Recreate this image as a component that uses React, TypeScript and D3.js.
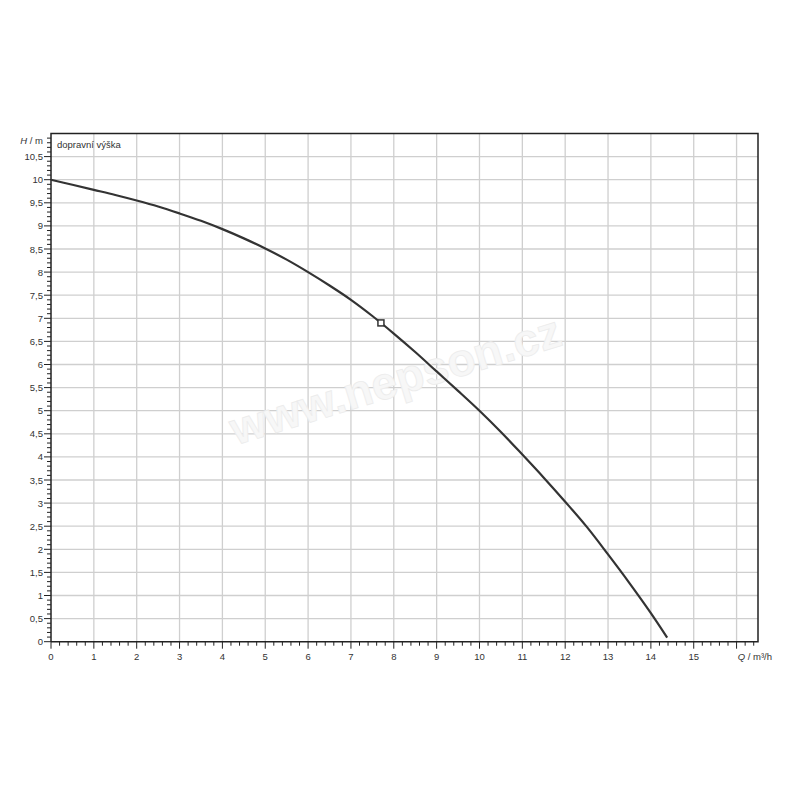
import { useEffect, useRef } from "react";
import * as d3 from "d3";

// pump curve
const flow = [0, 0.5, 1, 1.5, 2, 2.5, 3, 3.5, 4, 4.5, 5, 5.5, 6, 6.5, 7, 7.5, 8, 8.5, 9, 9.5, 10, 10.5, 11, 11.5, 12, 12.5, 13, 13.5, 14, 14.38];
const head = [10, 9.89, 9.78, 9.67, 9.55, 9.42, 9.27, 9.11, 8.93, 8.73, 8.51, 8.27, 8.0, 7.71, 7.4, 7.05, 6.67, 6.27, 5.85, 5.43, 5.0, 4.54, 4.05, 3.55, 3.03, 2.49, 1.89, 1.27, 0.62, 0.09];
const duty = { q: 7.7, h: 6.9 };

const xTicks = d3.range(0, 16);
const yTicks = d3.range(0, 10.51, 0.5);
const fmt = (v: number) => String(v).replace(".", ",");

const M = { left: 51, right: 758, top: 133.5, bottom: 641.7 };
const FONT = "'Liberation Sans', Arial, sans-serif";

const App = () => {
  const ref = useRef<SVGSVGElement | null>(null);

  useEffect(() => {
    const svg = d3.select(ref.current);
    svg.selectAll("*").remove();

    const x = d3.scaleLinear().domain([0, 16.5]).range([M.left, M.right]);
    const y = d3.scaleLinear().domain([0, 11]).range([M.bottom, M.top]);

    svg.append("rect").attr("width", 800).attr("height", 800).attr("fill", "#fff");

    // grid
    const grid = svg.append("g").attr("stroke", "#cfcfcf").attr("stroke-width", 1.3);
    grid
      .selectAll("line.v")
      .data(d3.range(1, 17))
      .join("line")
      .attr("x1", (d) => x(d))
      .attr("x2", (d) => x(d))
      .attr("y1", M.top)
      .attr("y2", M.bottom);
    grid
      .selectAll("line.h")
      .data(d3.range(0.5, 11, 0.5))
      .join("line")
      .attr("x1", M.left)
      .attr("x2", M.right)
      .attr("y1", (d) => y(d))
      .attr("y2", (d) => y(d));

    // watermark
    svg
      .append("text")
      .attr("transform", "translate(400,395) rotate(-17)")
      .attr("text-anchor", "middle")
      .attr("font-family", FONT)
      .attr("font-weight", "bold")
      .attr("font-size", 46)
      .attr("fill", "#f7f7f7")
      .attr("stroke", "#ececec")
      .attr("stroke-width", 0.8)
      .text("www.nepson.cz");

    // frame
    svg
      .append("path")
      .attr("d", `M${M.left},${M.bottom}V${M.top}H${M.right}V${M.bottom}H${M.left}`)
      .attr("fill", "none")
      .attr("stroke", "#222")
      .attr("stroke-width", 1.5);

    // y ticks
    const yMinor = d3.range(0, 110).map((i) => i / 10);
    svg
      .append("g")
      .attr("stroke", "#222")
      .selectAll("line")
      .data(yMinor)
      .join("line")
      .attr("x1", (d) => (Math.round(d * 10) % 5 === 0 ? M.left - 7 : M.left - 4))
      .attr("x2", M.left)
      .attr("y1", (d) => y(d))
      .attr("y2", (d) => y(d));

    // x ticks
    const xMinor = d3.range(0, 83).map((i) => i / 5);
    svg
      .append("g")
      .attr("stroke", "#222")
      .selectAll("line")
      .data(xMinor)
      .join("line")
      .attr("x1", (d) => x(d))
      .attr("x2", (d) => x(d))
      .attr("y1", M.bottom)
      .attr("y2", (d) => (Math.round(d * 5) % 5 === 0 ? M.bottom + 7 : M.bottom + 4));

    const labels = svg.append("g").attr("font-family", FONT).attr("font-size", 9.5).attr("fill", "#333");
    labels
      .selectAll("text.y")
      .data(yTicks)
      .join("text")
      .attr("x", M.left - 8)
      .attr("y", (d) => y(d) + 3.5)
      .attr("text-anchor", "end")
      .text((d) => fmt(d));
    labels
      .selectAll("text.x")
      .data(xTicks)
      .join("text")
      .attr("x", (d) => x(d))
      .attr("y", M.bottom + 18)
      .attr("text-anchor", "middle")
      .text((d) => String(d));

    const hl = labels.append("text").attr("x", M.left - 8).attr("y", M.top + 10).attr("text-anchor", "end");
    hl.append("tspan").attr("font-style", "italic").text("H");
    hl.append("tspan").text(" / m");

    labels.append("text").attr("x", M.left + 6).attr("y", M.top + 14).text("dopravní  výška");

    const ql = labels.append("text").attr("x", 772).attr("y", M.bottom + 18).attr("text-anchor", "end");
    ql.append("tspan").attr("font-style", "italic").text("Q");
    ql.append("tspan").text(" / m³/h");

    // curve
    const pts = flow.map((q, i) => [q, head[i]] as [number, number]);
    svg
      .append("path")
      .datum(pts)
      .attr("fill", "none")
      .attr("stroke", "#333")
      .attr("stroke-width", 2.2)
      .attr("d", d3.line<[number, number]>().x((d) => x(d[0])).y((d) => y(d[1])).curve(d3.curveCatmullRom));

    svg
      .append("rect")
      .attr("x", x(duty.q) - 3)
      .attr("y", y(duty.h) - 3)
      .attr("width", 6)
      .attr("height", 6)
      .attr("fill", "#fff")
      .attr("stroke", "#333")
      .attr("stroke-width", 1.5);
  }, []);

  return (
    <svg
      ref={ref}
      width={800}
      height={800}
      style={{ position: "absolute", left: 0, top: 0, display: "block" }}
    />
  );
};

export default App;
